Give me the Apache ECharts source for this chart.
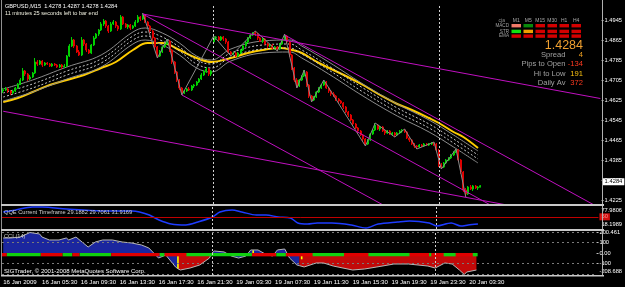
<!DOCTYPE html>
<html><head><meta charset="utf-8">
<script src="https://cdn.jsdelivr.net/npm/echarts@6/dist/echarts.min.js"></script>
<style>html,body{margin:0;padding:0;background:#000;}#c{width:625px;height:287px;}</style>
</head><body><div id="c"></div>
<script>
// ---- data ----
const symbolTitle = 'GBPUSD,M15  1.4278 1.4287 1.4278 1.4284';
const barTimer = '11 minutes 25 seconds left to bar end';
const priceTicks = [1.4225,1.4305,1.4385,1.4465,1.4545,1.4625,1.4705,1.4785,1.4865,1.4945];
const currentPrice = 1.4284;
const timeLabelBars = [0,16,32,48,64,80,96,112,128,144,160,176,192];
const timeLabels = ['16 Jan 2009','16 Jan 05:30','16 Jan 09:30','16 Jan 13:30','16 Jan 17:30','16 Jan 21:30','19 Jan 03:30','19 Jan 07:30','19 Jan 11:30','19 Jan 15:30','19 Jan 19:30','19 Jan 23:30','20 Jan 03:30'];
const periodSeparators = [86, 178];
// [open, close, low, high]
const candles = [
[1.4663,1.4667,1.4655,1.4675],[1.4667,1.4671,1.4663,1.4679],[1.4671,1.4663,1.4655,1.4675],[1.4663,1.4655,1.4647,1.4667],
[1.4655,1.4663,1.4651,1.4667],[1.4663,1.4675,1.4659,1.4679],[1.4675,1.4691,1.4671,1.4695],[1.4691,1.4707,1.4687,1.4715],
[1.4707,1.4743,1.4703,1.4755],[1.4743,1.4731,1.4723,1.4747],[1.4731,1.4711,1.4703,1.4735],[1.4711,1.4719,1.4707,1.4727],
[1.4719,1.4735,1.4715,1.4739],[1.4735,1.4779,1.4731,1.4795],[1.4779,1.4771,1.4763,1.4787],[1.4771,1.4783,1.4767,1.4787],
[1.4783,1.4767,1.4759,1.4787],[1.4767,1.4775,1.4763,1.4779],[1.4775,1.4771,1.4767,1.4779],[1.4771,1.4763,1.4759,1.4775],
[1.4763,1.4771,1.4759,1.4775],[1.4771,1.4767,1.4763,1.4775],[1.4767,1.4759,1.4755,1.4771],[1.4759,1.4767,1.4755,1.4771],
[1.4767,1.4759,1.4751,1.4771],[1.4759,1.4763,1.4755,1.4771],[1.4763,1.4803,1.4759,1.4807],[1.4803,1.4843,1.4799,1.4851],
[1.4843,1.4867,1.4839,1.4879],[1.4867,1.4843,1.4835,1.4871],[1.4843,1.4819,1.4815,1.4847],[1.4819,1.4807,1.4803,1.4827],
[1.4807,1.4867,1.4803,1.4879],[1.4867,1.4851,1.4843,1.4871],[1.4851,1.4827,1.4819,1.4855],[1.4827,1.4815,1.4811,1.4831],
[1.4815,1.4847,1.4811,1.4851],[1.4847,1.4875,1.4843,1.4883],[1.4875,1.4891,1.4871,1.4895],[1.4891,1.4907,1.4883,1.4911],
[1.4907,1.4931,1.4903,1.4939],[1.4931,1.4943,1.4923,1.4951],[1.4943,1.4923,1.4915,1.4947],[1.4923,1.4903,1.4895,1.4927],
[1.4903,1.4931,1.4899,1.4939],[1.4931,1.4939,1.4927,1.4947],[1.4939,1.4923,1.4915,1.4943],[1.4923,1.4911,1.4903,1.4927],
[1.4911,1.4959,1.4907,1.4967],[1.4959,1.4931,1.4927,1.4963],[1.4931,1.4919,1.4915,1.4935],[1.4919,1.4927,1.4911,1.4931],
[1.4927,1.4915,1.4907,1.4931],[1.4915,1.4923,1.4911,1.4927],[1.4923,1.4939,1.4919,1.4947],[1.4939,1.4959,1.4935,1.4967],
[1.4959,1.4951,1.4943,1.4963],[1.4951,1.4967,1.4947,1.4975],[1.4967,1.4939,1.4935,1.4971],[1.4939,1.4923,1.4919,1.4943],
[1.4923,1.4903,1.4895,1.4927],[1.4903,1.4875,1.4867,1.4907],[1.4875,1.4839,1.4831,1.4879],[1.4839,1.4803,1.4795,1.4843],
[1.4803,1.4819,1.4799,1.4827],[1.4819,1.4839,1.4815,1.4843],[1.4839,1.4851,1.4835,1.4855],[1.4851,1.4863,1.4847,1.4871],
[1.4863,1.4827,1.4819,1.4867],[1.4827,1.4779,1.4771,1.4831],[1.4779,1.4739,1.4731,1.4783],[1.4739,1.4707,1.4699,1.4743],
[1.4707,1.4675,1.4667,1.4711],[1.4675,1.4655,1.4647,1.4679],[1.4655,1.4663,1.4651,1.4667],[1.4663,1.4671,1.4659,1.4675],
[1.4671,1.4667,1.4663,1.4679],[1.4667,1.4683,1.4663,1.4687],[1.4683,1.4687,1.4675,1.4691],[1.4687,1.4699,1.4683,1.4703],
[1.4699,1.4711,1.4695,1.4715],[1.4711,1.4727,1.4707,1.4735],[1.4727,1.4739,1.4723,1.4747],[1.4739,1.4751,1.4735,1.4759],
[1.4751,1.4731,1.4723,1.4755],[1.4731,1.4743,1.4723,1.4747],
[1.4859,1.4875,1.4855,1.4883],[1.4875,1.4879,1.4867,1.4883],[1.4879,1.4867,1.4863,1.4883],[1.4867,1.4879,1.4863,1.4883],
[1.4879,1.4871,1.4863,1.4883],[1.4871,1.4859,1.4851,1.4875],[1.4859,1.4819,1.4811,1.4863],[1.4819,1.4811,1.4803,1.4823],
[1.4811,1.4815,1.4807,1.4819],[1.4815,1.4803,1.4799,1.4819],[1.4803,1.4815,1.4799,1.4819],[1.4815,1.4827,1.4811,1.4831],
[1.4827,1.4843,1.4823,1.4847],[1.4843,1.4859,1.4839,1.4863],[1.4859,1.4875,1.4855,1.4879],[1.4875,1.4887,1.4871,1.4891],
[1.4887,1.4895,1.4883,1.4899],[1.4895,1.4891,1.4883,1.4903],[1.4891,1.4875,1.4867,1.4895],[1.4875,1.4863,1.4859,1.4879],
[1.4863,1.4871,1.4855,1.4875],[1.4871,1.4851,1.4847,1.4875],[1.4851,1.4843,1.4835,1.4855],[1.4843,1.4847,1.4839,1.4851],
[1.4847,1.4835,1.4831,1.4851],[1.4835,1.4839,1.4827,1.4843],[1.4839,1.4831,1.4823,1.4843],[1.4831,1.4851,1.4827,1.4855],
[1.4851,1.4867,1.4847,1.4871],[1.4867,1.4883,1.4863,1.4891],[1.4883,1.4859,1.4851,1.4887],[1.4859,1.4807,1.4799,1.4863],
[1.4807,1.4755,1.4747,1.4811],[1.4755,1.4707,1.4699,1.4759],[1.4707,1.4683,1.4675,1.4715],[1.4683,1.4707,1.4679,1.4711],
[1.4707,1.4723,1.4703,1.4727],[1.4723,1.4739,1.4719,1.4747],[1.4739,1.4687,1.4679,1.4743],[1.4687,1.4643,1.4635,1.4691],
[1.4643,1.4627,1.4619,1.4647],[1.4627,1.4639,1.4623,1.4643],[1.4639,1.4659,1.4635,1.4663],[1.4659,1.4675,1.4655,1.4679],
[1.4675,1.4687,1.4671,1.4691],[1.4687,1.4699,1.4683,1.4707],[1.4699,1.4675,1.4671,1.4703],[1.4675,1.4663,1.4655,1.4679],
[1.4663,1.4651,1.4643,1.4667],[1.4651,1.4643,1.4639,1.4659],[1.4643,1.4631,1.4623,1.4647],[1.4631,1.4623,1.4615,1.4635],
[1.4623,1.4615,1.4611,1.4627],[1.4615,1.4599,1.4591,1.4619],[1.4599,1.4579,1.4575,1.4603],[1.4579,1.4567,1.4559,1.4583],
[1.4567,1.4547,1.4543,1.4571],[1.4547,1.4531,1.4523,1.4551],[1.4531,1.4515,1.4511,1.4535],[1.4515,1.4503,1.4495,1.4519],
[1.4503,1.4487,1.4483,1.4507],[1.4487,1.4471,1.4463,1.4491],[1.4471,1.4451,1.4443,1.4475],[1.4451,1.4467,1.4447,1.4471],
[1.4467,1.4491,1.4463,1.4495],[1.4491,1.4507,1.4487,1.4511],[1.4507,1.4527,1.4503,1.4535],[1.4527,1.4511,1.4507,1.4531],
[1.4511,1.4519,1.4503,1.4523],[1.4519,1.4503,1.4499,1.4523],[1.4503,1.4495,1.4487,1.4507],[1.4495,1.4503,1.4491,1.4507],
[1.4503,1.4491,1.4487,1.4507],[1.4491,1.4495,1.4483,1.4499],[1.4495,1.4487,1.4479,1.4499],[1.4487,1.4495,1.4483,1.4499],
[1.4495,1.4503,1.4491,1.4507],[1.4503,1.4507,1.4495,1.4511],[1.4507,1.4499,1.4495,1.4511],[1.4499,1.4475,1.4471,1.4503],
[1.4475,1.4467,1.4459,1.4479],[1.4467,1.4451,1.4447,1.4471],[1.4451,1.4443,1.4435,1.4455],[1.4443,1.4439,1.4431,1.4447],
[1.4439,1.4447,1.4435,1.4451],[1.4447,1.4443,1.4439,1.4451],[1.4443,1.4451,1.4439,1.4455],[1.4451,1.4447,1.4443,1.4455],
[1.4447,1.4451,1.4443,1.4455],[1.4451,1.4455,1.4447,1.4459],[1.4455,1.4451,1.4443,1.4459],[1.4451,1.4427,1.4423,1.4455],
[1.4419,1.4367,1.4359,1.4431],[1.4367,1.4359,1.4351,1.4375],[1.4359,1.4375,1.4355,1.4379],[1.4375,1.4387,1.4371,1.4391],
[1.4387,1.4395,1.4383,1.4399],[1.4395,1.4407,1.4391,1.4411],[1.4407,1.4419,1.4403,1.4423],[1.4419,1.4427,1.4415,1.4431],
[1.4427,1.4387,1.4383,1.4431],[1.4387,1.4339,1.4331,1.4391],[1.4339,1.4267,1.4259,1.4343],[1.4267,1.4251,1.4239,1.4275],
[1.4251,1.4279,1.4247,1.4283],[1.4279,1.4271,1.4267,1.4287],[1.4271,1.4283,1.4263,1.4287],[1.4283,1.4275,1.4271,1.4287],
[1.4275,1.4278,1.4267,1.4283],[1.4278,1.4284,1.4278,1.4287]
];
// slow moving average (yellow), [bar, price]
const slowMA = [[0,1.4619],[6,1.4635],[12,1.4659],[19,1.4687],[26,1.4707],[33,1.4727],[40,1.4755],[46,1.4779],[53,1.4827],[59,1.4855],[65,1.4855],[72,1.4827],[79,1.4795],[85,1.4779],[93,1.4795],[100,1.4815],[106,1.4827],[113,1.4835],[118,1.4827],[122,1.4815],[129,1.4775],[140,1.4723],[147,1.4687],[154,1.4647],[161,1.4611],[167,1.4587],[174,1.4555],[178,1.4535],[184,1.4499],[188,1.4479],[194,1.4435]];
const envBars = [0,12,26,40,53,58,65,72,79,85,93,106,117,122,133,147,161,174,184,194];
const envUpperOuter = [1.4671,1.4707,1.4759,1.4807,1.4899,1.4915,1.4895,1.4855,1.4803,1.4787,1.4831,1.4863,1.4867,1.4843,1.4779,1.4691,1.4611,1.4547,1.4487,1.4423];
const envUpperInner = [1.4655,1.4691,1.4743,1.4791,1.4883,1.4899,1.4879,1.4839,1.4787,1.4771,1.4815,1.4847,1.4851,1.4827,1.4763,1.4675,1.4595,1.4531,1.4471,1.4407];
const envLowerInner = [1.4639,1.4675,1.4727,1.4775,1.4867,1.4883,1.4863,1.4823,1.4771,1.4755,1.4799,1.4831,1.4835,1.4811,1.4747,1.4659,1.4579,1.4515,1.4455,1.4391];
const envLowerOuter = [1.4623,1.4659,1.4711,1.4759,1.4851,1.4867,1.4847,1.4807,1.4755,1.4739,1.4783,1.4815,1.4819,1.4795,1.4731,1.4643,1.4563,1.4499,1.4439,1.4375];
const zigzag = [[57,1.4975],[63,1.4795],[67,1.4871],[73,1.4647],[86,1.4883],[93,1.4803],[103,1.4903],[112,1.4823],[115,1.4891],[120,1.4675],[123,1.4747],[126,1.4619],[131,1.4707],[148,1.4443],[152,1.4535],[160,1.4479],[164,1.4511],[169,1.4431],[176,1.4459],[179,1.4351],[185,1.4431],[189,1.4239]];
const trendLines = [
  [[57,1.4971],[244,1.4633]],
  [[115,1.4887],[242,1.4204]],
  [[57,1.4971],[200,1.4202]],
  [[73,1.4647],[156,1.4203]],
  [[0,1.4582],[208,1.4203]]
];
// QQE sub-window
const qqeTicks = [18.1989, 77.9806];
const qqeLevel = 50;
const qqeTitle = 'QQE Current Timeframe 29.1882 29.7061 31.9169';
const qqe = [[0,63.7],[5,69.4],[12,78.0],[16,78.0],[26,72.3],[40,66.6],[53,66.6],[56,63.7],[60,55.2],[64,41.0],[69,29.6],[75,26.7],[80,35.3],[86,49.5],[89,63.7],[94,69.4],[98,63.7],[104,55.2],[108,55.2],[113,49.5],[118,46.7],[121,32.4],[125,29.6],[129,32.4],[135,32.4],[143,26.7],[149,18.2],[154,29.6],[162,35.3],[167,38.1],[175,32.4],[178,23.9],[184,32.4],[188,23.9],[191,26.7],[195,29.6]];
// CCI sub-window
const cciTicks = [-208.688, -100, 0, 100, 200.461];
const cciLevels = [-200, -100, 100, 200];
const cci = [[0,143],[3,143],[7,152],[11,195],[15,181],[16,152],[19,124],[23,124],[26,143],[27,124],[30,152],[33,95],[35,57],[38,105],[41,124],[45,124],[49,105],[53,95],[57,76],[60,48],[62,0],[64,-48],[67,-19],[68,-48],[71,-133],[72,-150],[73,-162],[77,-143],[81,-114],[85,-48],[86,0],[87,19],[91,10],[94,-29],[97,-48],[100,-29],[102,29],[105,29],[108,-10],[111,-29],[113,29],[116,38],[118,-48],[121,-114],[122,-120],[124,-133],[129,-95],[132,-95],[136,-124],[140,-143],[144,-162],[149,-152],[154,-133],[161,-105],[167,-105],[175,-124],[178,-143],[182,-95],[185,-105],[188,-162],[190,-205],[191,-181],[195,-162]];
const cciTrend = [[0,72,'#1c28a8'],[72,86,'#cc0a0a'],[86,122,'#1c28a8'],[122,195,'#cc0a0a']];
const cciSignals = [[72,-150],[103,25],[123,-60]];
// colour strip on the zero line: [fromBar, toBar, 1 = green / 0 = red]
const cciStrip = [[0,1,0],[2,15,1],[16,24,0],[25,28,1],[29,31,0],[32,44,1],[45,64,0],[65,66,1],[67,75,0],[76,102,1],[103,112,0],[113,116,1],[117,127,0],[128,140,1],[141,150,0],[151,167,1],[168,175,0],[176,176,1],[177,181,0],[182,186,1],[187,193,0],[194,195,1]];
const cciTitle = 'CCI (14)';
const copyright = 'SIGTrader, \u00a9 2001-2008 MetaQuotes Software Corp.';
// info panel
const tfHeaders = ['M1','M5','M15','M30','H1','H4'];
const tfRows = ['MACD','STR','EMA'];
const tfColors = [
  ['#f07a68','#0a8a0a','#d40000','#d40000','#d40000','#d40000'],
  ['#10e010','#f0a000','#d40000','#d40000','#d40000','#d40000'],
  ['#d40000','#d40000','#d40000','#d40000','#d40000','#d40000']
];
const infoLabels = ['Spread','Pips to Open','Hi to Low','Daily Av'];
const infoValues = ['4','-134','191','372'];
const infoColors = ['#f0a020','#ff3a20','#f8c010','#ff3a20'];

// ---- chart ----
const FONT = '"Liberation Sans", Arial, sans-serif';
const slots = Array.from({length: 245}, (_, i) => String(i));
const el = document.getElementById('c');
const chart = echarts.init(el, null, {renderer: 'canvas'});

function xAx(gi, showLabels) {
  return {
    type: 'category', gridIndex: gi, data: slots, boundaryGap: true,
    axisLine: {show: false},
    axisTick: showLabels ? {show: true, alignWithLabel: true, length: 3, interval: (i) => timeLabelBars.includes(i), lineStyle: {color: '#c0c0c0'}} : {show: false},
    axisLabel: showLabels ? {
      show: true, interval: (i) => timeLabelBars.includes(i), align: 'left', margin: 4,
      formatter: (v) => timeLabels[timeLabelBars.indexOf(Number(v))] || '',
      color: '#ffffff', fontSize: 6.1, fontFamily: FONT
    } : {show: false},
    splitLine: {show: false}
  };
}
const sepLines = periodSeparators.map(b => ({xAxis: b, lineStyle: {color: '#d0d0d0', type: [2, 2], width: 1}, label: {show: false}}));

const series = [];
series.push({
  type: 'candlestick', xAxisIndex: 0, yAxisIndex: 0, data: candles, barWidth: 1.5, z: 3,
  itemStyle: {color: '#00d000', color0: '#e00000', borderColor: '#00d000', borderColor0: '#e00000', borderWidth: 1},
  markLine: {
    silent: true, symbol: 'none', animation: false,
    data: [{yAxis: currentPrice, lineStyle: {color: 'rgba(0,0,0,0)'}, label: {show: true, position: 'end', distance: 1, formatter: currentPrice.toFixed(4), backgroundColor: '#ffffff', color: '#000000', fontSize: 5.8, fontFamily: FONT, padding: [1, 2, 0, 2]}},
      ...sepLines]
  }
});
series.push({type: 'line', xAxisIndex: 0, yAxisIndex: 0, data: slowMA, smooth: 0.4, showSymbol: false, z: 2, lineStyle: {color: '#ffcc00', width: 2}});
[[envUpperOuter, '#8c8c8c', 'solid'], [envUpperInner, '#c8c8c8', [2, 2]], [envLowerInner, '#c8c8c8', [2, 2]], [envLowerOuter, '#8c8c8c', 'solid']].forEach(([arr, col, tp]) => {
  series.push({type: 'line', xAxisIndex: 0, yAxisIndex: 0, data: arr.map((v, k) => [envBars[k], v]), smooth: 0.4, showSymbol: false, z: 2, lineStyle: {color: col, width: 1, type: tp}});
});
series.push({type: 'line', xAxisIndex: 0, yAxisIndex: 0, data: zigzag, showSymbol: false, z: 4, lineStyle: {color: '#8a8a8a', width: 1}});
trendLines.forEach(tl => series.push({type: 'line', xAxisIndex: 0, yAxisIndex: 0, data: tl, showSymbol: false, z: 5, clip: true, lineStyle: {color: '#c010c0', width: 1}}));

// QQE
series.push({
  type: 'line', xAxisIndex: 1, yAxisIndex: 1, data: qqe, showSymbol: false, smooth: 0.3, z: 3,
  lineStyle: {color: '#1e3cff', width: 1.5},
  markLine: {
    silent: true, symbol: 'none', animation: false,
    data: [{yAxis: qqeLevel, lineStyle: {color: '#c00000', width: 1, type: 'solid'}, label: {show: true, position: 'end', distance: 1, formatter: String(qqeLevel), backgroundColor: '#d01010', color: '#ff9090', fontSize: 5.8, fontFamily: FONT, padding: [1, 2, 0, 2]}},
      ...sepLines]
  }
});

// CCI
series.push({
  type: 'custom', xAxisIndex: 2, yAxisIndex: 2, data: cciStrip, z: 4,
  encode: {x: [0, 1], y: 2},
  renderItem: (params, api) => {
    const a = api.coord([api.value(0), 0]);
    const b = api.coord([api.value(1), -32]);
    const w = api.size([1, 0])[0];
    return {type: 'rect', shape: {x: a[0] - w / 2, y: a[1], width: b[0] - a[0] + w, height: b[1] - a[1]}, style: {fill: api.value(2) === 1 ? '#10d010' : '#e00000'}};
  }
});
cciTrend.forEach(([a, b, col]) => {
  series.push({
    type: 'line', xAxisIndex: 2, yAxisIndex: 2, data: cci.filter(p => p[0] >= a && p[0] <= b), showSymbol: false, z: 2,
    lineStyle: {width: 0, color: col}, areaStyle: {color: col, opacity: 0.95}
  });
});
series.push({
  type: 'bar', xAxisIndex: 2, yAxisIndex: 2, data: cciSignals, barWidth: 1.6, z: 3, itemStyle: {color: '#ffff00'}
});
series.push({
  type: 'line', xAxisIndex: 2, yAxisIndex: 2, data: cci, showSymbol: false, z: 3,
  lineStyle: {color: '#b8b8b8', width: 1},
  markLine: {
    silent: true, symbol: 'none', animation: false, label: {show: false},
    data: [...cciLevels.map(v => ({yAxis: v, lineStyle: {color: '#7a7a7a', type: [2, 3], width: 1}})), ...sepLines]
  }
});

const graphic = [];
graphic.push({type: 'line', shape: {x1: 1.5, y1: 0, x2: 1.5, y2: 276}, style: {stroke: '#909090', lineWidth: 1}, z: 100});
graphic.push({type: 'line', shape: {x1: 602.5, y1: 0, x2: 602.5, y2: 276}, style: {stroke: '#b0b0b0', lineWidth: 1}, z: 100});
graphic.push({type: 'rect', shape: {x: 1, y: 204, width: 603, height: 2}, style: {fill: '#c8c8c8'}, z: 100});
graphic.push({type: 'rect', shape: {x: 1, y: 229, width: 603, height: 2}, style: {fill: '#c8c8c8'}, z: 100});
graphic.push({type: 'rect', shape: {x: 1, y: 275, width: 603, height: 1.5}, style: {fill: '#c8c8c8'}, z: 100});
const txt = (x, y, text, fill, size, align) => ({type: 'text', x, y, z: 110, style: {text, fill, fontSize: size, fontFamily: FONT, align: align || 'left', verticalAlign: 'middle'}});
graphic.push(txt(5, 6.5, symbolTitle, '#ffffff', 5.6));
graphic.push(txt(5, 13.5, barTimer, '#f0f0e0', 5.6));
graphic.push(txt(4, 212.5, qqeTitle, '#d0d0d0', 5.7));
graphic.push(txt(4, 236, cciTitle, '#d0d0d0', 5.7));
graphic.push(txt(4, 271, copyright, '#ffffff', 6));
const colX = [511.5, 523.5, 535.5, 547.5, 559.5, 571.5];
graphic.push(txt(505, 20.5, 'cja', '#909090', 5, 'right'));
tfHeaders.forEach((h, k) => graphic.push(txt(colX[k] + 4.7, 20.5, h, '#a8a8a8', 5, 'center')));
const rowY = [24, 29.7, 34.4];
tfRows.forEach((r, j) => {
  graphic.push(txt(509, rowY[j] + 1.7, r, '#a0a0a0', 4.6, 'right'));
  tfColors[j].forEach((c, k) => graphic.push({type: 'rect', z: 110, shape: {x: colX[k], y: rowY[j], width: 9.5, height: 3.4}, style: {fill: c}}));
});
graphic.push(txt(583, 45.5, currentPrice.toFixed(4), '#f0a030', 12.5, 'right'));
const infoY = [55, 64.3, 73.5, 82.5];
infoLabels.forEach((l, k) => {
  graphic.push(txt(565.5, infoY[k], l, '#a0a0a0', 7.6, 'right'));
  graphic.push(txt(583, infoY[k], infoValues[k], infoColors[k], 7.6, 'right'));
});

const option = {
  backgroundColor: '#000000',
  animation: false,
  grid: [
    {left: 2, top: 4, width: 600, height: 200},
    {left: 2, top: 206, width: 600, height: 23},
    {left: 2, top: 231, width: 600, height: 44}
  ],
  xAxis: [xAx(0, false), xAx(1, false), xAx(2, true)],
  yAxis: [
    {type: 'value', gridIndex: 0, position: 'right', min: 1.4211, max: 1.5011,
      axisLine: {show: false}, splitLine: {show: false},
      axisTick: {show: true, length: 2, customValues: priceTicks, lineStyle: {color: '#c0c0c0'}},
      axisLabel: {show: true, customValues: priceTicks, margin: 3, formatter: v => v.toFixed(4), color: '#ffffff', fontSize: 5.7, fontFamily: FONT}},
    {type: 'value', gridIndex: 1, position: 'right', min: 15.35, max: 80.8,
      axisLine: {show: false}, splitLine: {show: false}, axisTick: {show: false},
      axisLabel: {show: true, customValues: qqeTicks, margin: 3, lineHeight: 7, color: '#ffffff', fontSize: 5.7, fontFamily: FONT,
        formatter: v => v > 50 ? '\n' + v.toFixed(4) : v.toFixed(4) + '\n'}},
    {type: 'value', gridIndex: 2, position: 'right', min: -209.5, max: 209.5,
      axisLine: {show: false}, splitLine: {show: false},
      axisTick: {show: true, length: 2, customValues: cciTicks, lineStyle: {color: '#c0c0c0'}},
      axisLabel: {show: true, customValues: cciTicks, margin: 3, lineHeight: 7, color: '#ffffff', fontSize: 5.7, fontFamily: FONT,
        formatter: v => v === 0 ? '0.00' : (v < -200 ? String(v) + '\n' : String(v))}}
  ],
  series,
  graphic
};
chart.setOption(option);
</script>
</body></html>
